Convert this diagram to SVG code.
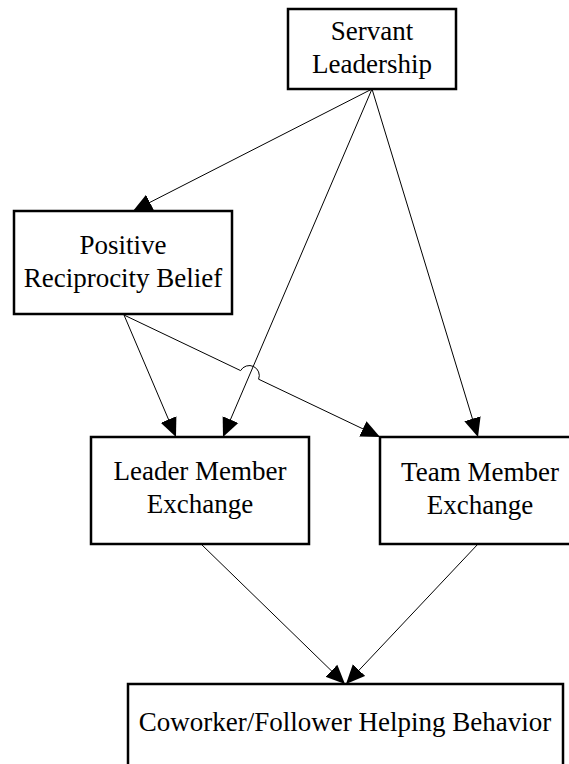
<svg xmlns="http://www.w3.org/2000/svg" width="569" height="764" viewBox="0 0 569 764">
  <style>
    .box { fill: #ffffff; stroke: #000000; stroke-width: 2.5; }
    .lbl { font-family: "Liberation Serif", "Times New Roman", serif; font-size: 27px; fill: #000000; text-anchor: middle; }
    .edge { fill: none; stroke: #000000; stroke-width: 1; marker-end: url(#arrow); }
  </style>
  <defs>
    <marker id="arrow" markerUnits="userSpaceOnUse" markerWidth="20" markerHeight="18" refX="19" refY="8.5" orient="auto" viewBox="0 0 20 17">
      <path d="M0,0 L19,8.5 L0,17 z" fill="#000000"/>
    </marker>
  </defs>

  <rect width="569" height="764" fill="#ffffff"/>

  <!-- connectors -->
  <g id="connectors">
    <line class="edge" x1="372" y1="89" x2="133" y2="211"/>
    <line class="edge" x1="372" y1="89" x2="223" y2="437"/>
    <line class="edge" x1="372" y1="89" x2="478" y2="437"/>
    <line class="edge" x1="124" y1="315" x2="176" y2="437"/>
    <!-- crossing hop over the Servant Leadership to LMX line -->
    <path class="edge" d="M124,315 L240.6,370.6 A10,10 0 0 1 258.6,379.2 L380,437"/>
    <line class="edge" x1="201" y1="544" x2="345" y2="684"/>
    <line class="edge" x1="478" y1="544" x2="346" y2="684"/>
  </g>

  <!-- nodes -->
  <g id="servant-leadership">
    <rect class="box" x="288" y="9" width="168" height="80"/>
    <text class="lbl" x="372" y="40">Servant</text>
    <text class="lbl" x="372" y="73">Leadership</text>
  </g>

  <g id="positive-reciprocity-belief">
    <rect class="box" x="14" y="211" width="218" height="103"/>
    <text class="lbl" x="123" y="254">Positive</text>
    <text class="lbl" x="123" y="287">Reciprocity Belief</text>
  </g>

  <g id="leader-member-exchange">
    <rect class="box" x="91" y="437" width="218" height="107"/>
    <text class="lbl" x="200" y="480">Leader Member</text>
    <text class="lbl" x="200" y="513">Exchange</text>
  </g>

  <g id="team-member-exchange">
    <rect class="box" x="380" y="437" width="200" height="107"/>
    <text class="lbl" x="480" y="481">Team Member</text>
    <text class="lbl" x="480" y="514">Exchange</text>
  </g>

  <g id="coworker-follower-helping-behavior">
    <rect class="box" x="128" y="684" width="435" height="90"/>
    <text class="lbl" x="345" y="731">Coworker/Follower Helping Behavior</text>
  </g>
</svg>
